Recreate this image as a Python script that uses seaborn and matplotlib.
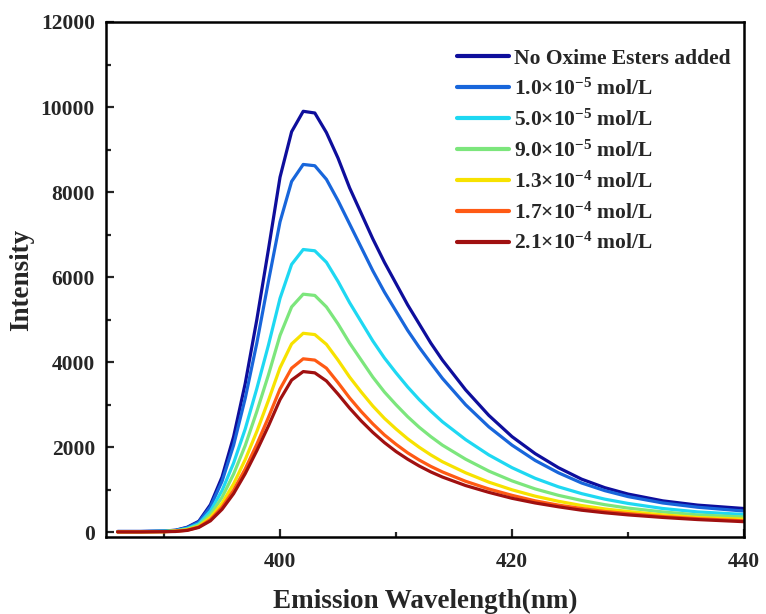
import numpy as np
import pandas as pd
import matplotlib
matplotlib.use("Agg")
import matplotlib.pyplot as plt
from matplotlib.ticker import MultipleLocator
import seaborn as sns

# ---------------- data ----------------
wavelength = [386, 388, 390, 391, 392, 393, 394, 395, 396, 397, 398, 399, 400,
              401, 402, 403, 404, 405, 406, 407, 408, 409, 410, 411, 412, 413,
              414, 416, 418, 420, 422, 424, 426, 428, 430, 433, 436, 440]

labels = ["No Oxime Esters added",
          "1.0×10$^{-5}$ mol/L",
          "5.0×10$^{-5}$ mol/L",
          "9.0×10$^{-5}$ mol/L",
          "1.3×10$^{-4}$ mol/L",
          "1.7×10$^{-4}$ mol/L",
          "2.1×10$^{-4}$ mol/L"]

no_oxime = [20, 20, 30, 50, 120, 260, 650, 1300, 2250, 3500, 5000, 6650, 8350,
            9420, 9900, 9860, 9400, 8800, 8100, 7500, 6900, 6350, 5850, 5350,
            4900, 4450, 4050, 3350, 2750, 2250, 1850, 1520, 1250, 1050, 900,
            740, 640, 560]
c_1_0e5 = [20, 20, 30, 45, 110, 240, 600, 1200, 2050, 3150, 4450, 5900, 7300,
           8250, 8650, 8620, 8300, 7800, 7250, 6700, 6150, 5650, 5200, 4750,
           4350, 3980, 3620, 3000, 2480, 2050, 1690, 1400, 1160, 980, 840,
           690, 590, 500]
c_5_0e5 = [15, 15, 25, 40, 90, 200, 500, 980, 1630, 2430, 3380, 4400, 5500,
           6300, 6650, 6620, 6350, 5900, 5400, 4950, 4500, 4100, 3750, 3420,
           3120, 2850, 2600, 2180, 1820, 1520, 1270, 1070, 910, 780, 680,
           560, 480, 420]
c_9_0e5 = [15, 15, 20, 35, 75, 170, 420, 820, 1370, 2040, 2840, 3700, 4630,
           5300, 5600, 5570, 5300, 4900, 4450, 4050, 3650, 3300, 3000, 2720,
           2470, 2250, 2050, 1720, 1440, 1210, 1020, 870, 750, 650, 570,
           480, 410, 360]
c_1_3e4 = [10, 10, 15, 30, 60, 140, 350, 680, 1140, 1710, 2370, 3100, 3870,
           4430, 4680, 4650, 4420, 4050, 3650, 3300, 2970, 2680, 2430, 2200,
           2000, 1820, 1660, 1400, 1180, 1000, 850, 730, 630, 550, 490,
           410, 350, 310]
c_1_7e4 = [10, 10, 15, 25, 50, 125, 300, 590, 990, 1490, 2070, 2700, 3370,
           3860, 4080, 4050, 3860, 3520, 3160, 2840, 2550, 2290, 2070, 1870,
           1700, 1550, 1420, 1200, 1020, 870, 740, 640, 560, 490, 440,
           370, 320, 270]
c_2_1e4 = [10, 10, 15, 20, 45, 115, 270, 540, 910, 1380, 1920, 2500, 3120,
           3580, 3780, 3750, 3560, 3250, 2920, 2620, 2350, 2110, 1900, 1720,
           1560, 1420, 1300, 1100, 940, 800, 690, 600, 520, 460, 410,
           350, 300, 250]

series = [no_oxime, c_1_0e5, c_5_0e5, c_9_0e5, c_1_3e4, c_1_7e4, c_2_1e4]
colors = ["#0E0E9C", "#1866DB", "#1ED8F2", "#7CE67C", "#F7E200", "#FF5A14", "#A01010"]

x_ticks = [400, 420, 440]
y_ticks = [0, 2000, 4000, 6000, 8000, 10000, 12000]

frames = []
for lab, vals in zip(labels, series):
    frames.append(pd.DataFrame({"Wavelength": wavelength, "Intensity": vals, "Sample": lab}))
df = pd.concat(frames, ignore_index=True)

# ---------------- style ----------------
sns.set_style("ticks")
plt.rcParams["font.family"] = ["Liberation Serif", "DejaVu Serif"]
plt.rcParams["font.weight"] = "bold"
plt.rcParams["mathtext.fontset"] = "custom"
plt.rcParams["mathtext.rm"] = "Liberation Serif:bold"
plt.rcParams["mathtext.it"] = "Liberation Serif:bold:italic"
plt.rcParams["mathtext.bf"] = "Liberation Serif:bold"
plt.rcParams["mathtext.default"] = "rm"

fig = plt.figure(figsize=(7.66, 6.14), dpi=100)
ax = fig.add_axes([0.1384, 0.1254, 0.8329, 0.8388])

sns.lineplot(data=df, x="Wavelength", y="Intensity", hue="Sample",
             hue_order=labels, palette=colors, linewidth=2.3, ax=ax,
             sort=False, estimator=None)

ax.set_xlim(385, 440)
ax.set_ylim(-110, 12000)
ax.set_xticks(x_ticks)
ax.set_yticks(y_ticks)
ax.xaxis.set_minor_locator(MultipleLocator(10))
ax.yaxis.set_minor_locator(MultipleLocator(1000))
ax.tick_params(axis="x", which="major", direction="in", length=6, width=1.6,
               labelsize=15.5, pad=11)
ax.tick_params(axis="y", which="major", direction="in", length=6, width=1.6,
               labelsize=15.5, pad=8)
ax.tick_params(axis="both", which="minor", direction="in", length=3.5, width=1.6)
for lab in ax.get_xticklabels() + ax.get_yticklabels():
    lab.set_fontweight("bold")
for sp in ax.spines.values():
    sp.set_linewidth(1.8)
    sp.set_color("black")

ax.set_xlabel("Emission Wavelength(nm)", fontsize=19.5, fontweight="bold", labelpad=12)
ax.set_ylabel("Intensity", fontsize=19.5, fontweight="bold", labelpad=5)

leg = ax.legend(loc="upper right", bbox_to_anchor=(1.0, 0.973), frameon=False,
                prop={"family": "Liberation Serif", "weight": "bold", "size": 15.5},
                handlelength=2.4, handletextpad=0.25, labelspacing=0.45,
                borderaxespad=0.2)
for line in leg.get_lines():
    line.set_linewidth(3)

fig.savefig("out.png", dpi=100)
